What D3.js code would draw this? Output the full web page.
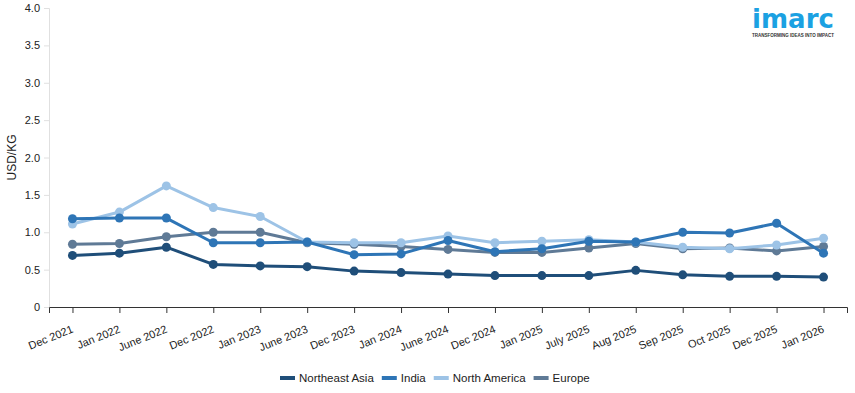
<!DOCTYPE html>
<html>
<head>
<meta charset="utf-8">
<script src="https://cdn.jsdelivr.net/npm/d3@7"></script>
<style>
    body { margin: 0; background: #fff; }
    svg { font-family: "Liberation Sans", Arial, sans-serif; }
</style>
</head>
<body>
<div id="chart"></div>
<script>
    // Data
    var months = ['Dec 2021', 'Jan 2022', 'June 2022', 'Dec 2022', 'Jan 2023', 'June 2023', 'Dec 2023',
        'Jan 2024', 'June 2024', 'Dec 2024', 'Jan 2025', 'July 2025', 'Aug 2025', 'Sep 2025',
        'Oct 2025', 'Dec 2025', 'Jan 2026'];
    var seriesNames = ['Northeast Asia', 'India', 'North America', 'Europe'];
    var northeastAsia = [0.69, 0.72, 0.80, 0.57, 0.55, 0.54, 0.48, 0.46, 0.44, 0.42, 0.42, 0.42, 0.49, 0.43, 0.41, 0.41, 0.40];
    var india = [1.18, 1.19, 1.19, 0.86, 0.86, 0.87, 0.70, 0.71, 0.89, 0.74, 0.78, 0.88, 0.87, 1.00, 0.99, 1.12, 0.72];
    var northAmerica = [1.11, 1.27, 1.62, 1.33, 1.21, 0.87, 0.86, 0.86, 0.95, 0.86, 0.88, 0.90, 0.87, 0.80, 0.78, 0.83, 0.92];
    var europe = [0.84, 0.85, 0.94, 1.00, 1.00, 0.86, 0.84, 0.81, 0.77, 0.73, 0.73, 0.79, 0.85, 0.78, 0.79, 0.75, 0.81];
    var yTicks = [0, 0.5, 1.0, 1.5, 2.0, 2.5, 3.0, 3.5, 4.0];
    var colors = ['#1f4e79', '#2e75b6', '#9dc3e6', '#5f7a96'];

    var width = 855, height = 393;
    var margin = { top: 8, right: 8, bottom: 86, left: 49 };
    var innerW = width - margin.left - margin.right,
        innerH = height - margin.top - margin.bottom;

    var series = [northeastAsia, india, northAmerica, europe].map(function(vals, i) {
        return { name: seriesNames[i], color: colors[i], values: vals };
    });

    var svg = d3.select('#chart').append('svg')
        .attr('width', width).attr('height', height);
    var g = svg.append('g')
        .attr('transform', 'translate(' + margin.left + ',' + margin.top + ')');

    // Scales
    var xScale = d3.scalePoint().domain(months).range([0, innerW]).padding(0.5);
    var yScale = d3.scaleLinear().domain([0, 4]).range([innerH, 0]);

    // Y axis
    var yAxis = g.append('g').attr('class', 'axis y')
        .call(d3.axisLeft(yScale).tickValues(yTicks).tickSize(5).tickPadding(4)
            .tickFormat(function(d) { return d === 0 ? '0' : d3.format('.1f')(d); }));
    yAxis.select('.domain').attr('stroke', '#e0e0e0');
    yAxis.selectAll('.tick line').attr('stroke', '#e0e0e0');
    yAxis.selectAll('text').style('font-size', '11px').attr('fill', '#222');

    // Y title
    g.append('text')
        .attr('transform', 'translate(' + (-33) + ',' + (innerH / 2) + ') rotate(-90)')
        .attr('text-anchor', 'middle')
        .style('font-size', '12px')
        .attr('fill', '#222')
        .text('USD/KG');

    // X axis
    var xAxis = g.append('g').attr('class', 'axis x')
        .attr('transform', 'translate(0,' + innerH + ')')
        .call(d3.axisBottom(xScale).tickSizeOuter(0).tickSize(6));
    xAxis.select('.domain').attr('stroke', '#333');
    xAxis.selectAll('.tick line').attr('stroke', '#333');
    xAxis.selectAll('text')
        .style('font-size', '11px')
        .attr('fill', '#222')
        .attr('text-anchor', 'end')
        .attr('dy', null)
        .attr('y', 0)
        .attr('transform', 'translate(1,25) rotate(-22)');

    // Lines (drawn back to front)
    var line = d3.line()
        .x(function(d, i) { return xScale(months[i]); })
        .y(function(d) { return yScale(d); });
    var drawOrder = series.slice().reverse();
    var sg = g.selectAll('.series').data(drawOrder).enter()
        .append('g').attr('class', 'series');
    sg.append('path')
        .attr('fill', 'none')
        .attr('stroke', function(d) { return d.color; })
        .attr('stroke-width', 3)
        .attr('stroke-linejoin', 'round')
        .attr('d', function(d) { return line(d.values); });
    sg.selectAll('circle').data(function(d) {
            return d.values.map(function(v, i) { return { v: v, i: i, color: d.color }; });
        }).enter()
        .append('circle')
        .attr('cx', function(d) { return xScale(months[d.i]); })
        .attr('cy', function(d) { return yScale(d.v); })
        .attr('r', 4.5)
        .attr('fill', function(d) { return d.color; });

    // Legend
    var legend = svg.append('g').attr('class', 'legend');
    var lx = 280;
    series.forEach(function(s) {
        var item = legend.append('g').attr('transform', 'translate(' + lx + ',378)');
        item.append('rect').attr('x', 0).attr('y', -2).attr('width', 15).attr('height', 4)
            .attr('fill', s.color);
        var t = item.append('text').attr('x', 19).attr('y', 4)
            .style('font-size', '11.5px').attr('fill', '#222').text(s.name);
        lx += 19 + t.node().getComputedTextLength() + 8;
    });

    // Logo
    var logo = svg.append('g').attr('transform', 'translate(793,0)');
    logo.append('text').attr('x', 0).attr('y', 28).attr('text-anchor', 'middle')
        .style('font-size', '26px').style('font-weight', 'bold')
        .style('font-family', '"DejaVu Sans", sans-serif')
        .attr('fill', '#1ba1e2').text('imarc');
    logo.append('text').attr('x', 0).attr('y', 37).attr('text-anchor', 'middle')
        .style('font-size', '4.5px').style('font-weight', 'bold')
        .attr('fill', '#333').text('TRANSFORMING IDEAS INTO IMPACT');
</script>
</body>
</html>
